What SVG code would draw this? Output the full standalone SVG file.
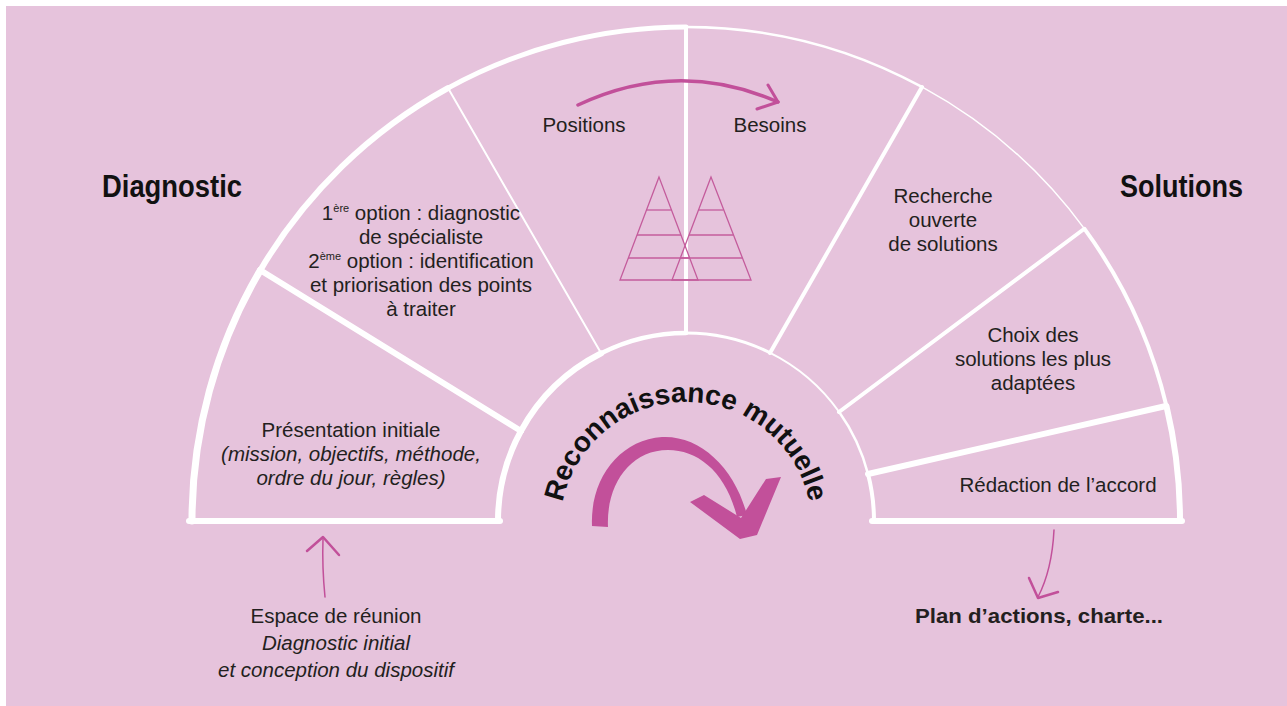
<svg xmlns="http://www.w3.org/2000/svg" width="1287" height="706" viewBox="0 0 1287 706">
<defs>
<style>
.bg{fill:#e6c3dc}
.w{fill:none;stroke:#ffffff;stroke-linecap:round}
.t{font-family:"Liberation Sans",Arial,sans-serif;font-size:20.5px;fill:#231f20;text-anchor:middle}
.it{font-style:italic}
.b{font-weight:bold}
.h{font-family:"Liberation Sans",Arial,sans-serif;font-weight:bold;font-size:31px;fill:#111111}
.sup{font-size:11px}
.pk{fill:none;stroke:#c2509a;stroke-linecap:round;stroke-linejoin:round}
.tri{fill:none;stroke:#c45c9c;stroke-width:1.3}
</style>
<path id="arcText" d="M 560 528 A 126 126 0 0 1 812 528"/>
</defs>
<rect class="bg" x="6" y="6" width="1281" height="700"/>

<g id="fan">
  <path class="w" stroke-width="7" d="M 192 521 A 494 494 0 0 1 260.2 270.4"/>
  <path class="w" stroke-width="6" d="M 260.2 270.4 A 494 494 0 0 1 447.9 88.1"/>
  <path class="w" stroke-width="5" d="M 447.9 88.1 A 494 494 0 0 1 686 27"/>
  <path class="w" stroke-width="2.5" d="M 686 27 A 494 494 0 0 1 922.4 87.2"/>
  <path class="w" stroke-width="1.5" d="M 922.4 87.2 A 494 494 0 0 1 1084.5 228.9"/>
  <path class="w" stroke-width="4" d="M 1084.5 228.9 A 494 494 0 0 1 1166.5 406.2"/>
  <path class="w" stroke-width="6" d="M 1166.5 406.2 A 494 494 0 0 1 1180 521"/>
  <path class="w" stroke-width="6" d="M 498 521 A 188 188 0 0 1 520.8 431.2"/>
  <path class="w" stroke-width="6" d="M 520.8 431.2 A 188 188 0 0 1 601.2 353.3"/>
  <path class="w" stroke-width="4.5" d="M 601.2 353.3 A 188 188 0 0 1 686 333"/>
  <path class="w" stroke-width="3" d="M 686 333 A 188 188 0 0 1 769.7 352.6"/>
  <path class="w" stroke-width="2" d="M 769.7 352.6 A 188 188 0 0 1 839.2 412"/>
  <path class="w" stroke-width="2.5" d="M 839.2 412 A 188 188 0 0 1 867.9 473.6"/>
  <path class="w" stroke-width="4" d="M 867.9 473.6 A 188 188 0 0 1 874 521"/>
  <line class="w" stroke-width="6" x1="189" y1="521" x2="500" y2="521"/>
  <line class="w" stroke-width="6" x1="872" y1="521" x2="1182" y2="521"/>
  <line class="w" stroke-width="6" x1="260" y1="270" x2="521" y2="431"/>
  <line class="w" stroke-width="2" x1="448" y1="88" x2="601" y2="353"/>
  <line class="w" stroke-width="4" x1="686" y1="27" x2="686" y2="333"/>
  <line class="w" stroke-width="4" x1="922" y1="87" x2="770" y2="353"/>
  <line class="w" stroke-width="4" x1="1084" y1="229" x2="839" y2="412"/>
  <line class="w" stroke-width="6" x1="1166" y1="406" x2="868" y2="474"/>
</g>

<g id="title-diagnostic">
  <text class="h" x="102" y="197" textLength="140" lengthAdjust="spacingAndGlyphs">Diagnostic</text>
</g>
<g id="title-solutions">
  <text class="h" x="1120" y="197" textLength="123" lengthAdjust="spacingAndGlyphs">Solutions</text>
</g>

<g id="node-presentation">
  <text class="t" x="351" y="437">Présentation initiale</text>
  <text class="t it" x="351" y="461">(mission, objectifs, méthode,</text>
  <text class="t it" x="351" y="485">ordre du jour, règles)</text>
</g>

<g id="node-options">
  <text class="t" x="421" y="220">1<tspan class="sup" dy="-8">ère</tspan><tspan dy="8"> option : diagnostic</tspan></text>
  <text class="t" x="421" y="244">de spécialiste</text>
  <text class="t" x="421" y="268">2<tspan class="sup" dy="-8">ème</tspan><tspan dy="8"> option : identification</tspan></text>
  <text class="t" x="421" y="292">et priorisation des points</text>
  <text class="t" x="421" y="316">à traiter</text>
</g>

<g id="node-positions-besoins">
  <text class="t" x="584" y="132">Positions</text>
  <text class="t" x="770" y="132">Besoins</text>
  <polygon class="tri" points="659,177 620,280 698,280"/>
  <polygon class="tri" points="711,177 672,280 751,280"/>
  <line class="tri" x1="646.5" y1="210" x2="671.5" y2="210"/>
  <line class="tri" x1="637" y1="235" x2="681" y2="235"/>
  <line class="tri" x1="628" y1="258" x2="690" y2="258"/>
  <line class="tri" x1="698.5" y1="210" x2="723.5" y2="210"/>
  <line class="tri" x1="689" y1="235" x2="733" y2="235"/>
  <line class="tri" x1="680" y1="258" x2="742" y2="258"/>
</g>

<g id="node-recherche">
  <text class="t" x="943" y="203">Recherche</text>
  <text class="t" x="943" y="227">ouverte</text>
  <text class="t" x="943" y="251">de solutions</text>
</g>

<g id="node-choix">
  <text class="t" x="1033" y="342">Choix des</text>
  <text class="t" x="1033" y="366">solutions les plus</text>
  <text class="t" x="1033" y="390">adaptées</text>
</g>

<g id="node-redaction">
  <text class="t" x="1058" y="492">Rédaction de l’accord</text>
</g>

<g id="node-reconnaissance">
  <text font-family="'Liberation Sans',Arial,sans-serif" font-weight="bold" font-size="28" fill="#111111" text-anchor="middle"><textPath href="#arcText" startOffset="50%">Reconnaissance mutuelle</textPath></text>
  <path fill="#c2509a" d="M 592 526 C 590 478, 620 440, 662 437 C 700 435, 735 468, 747 515 L 737 517 C 726 472, 698 450, 668 450 C 630 450, 606 485, 608 527 Z"/>
  <polygon fill="#c2509a" points="690,502 704,495 741,518 766,479 781,477 757,535 740,539"/>
</g>

<g id="node-espace">
  <text class="t" x="336" y="623">Espace de réunion</text>
  <text class="t it" x="336" y="650">Diagnostic initial</text>
  <text class="t it" x="336" y="677">et conception du dispositif</text>
</g>

<g id="node-plan">
  <text class="t b" x="1039" y="623" font-size="21" textLength="248" lengthAdjust="spacingAndGlyphs">Plan d’actions, charte...</text>
</g>

<g id="connectors">
  <path class="pk" stroke-width="3.5" d="M 578 105 Q 678 58 778 102"/>
  <path class="pk" stroke-width="3" d="M 768 85 L 778 102 L 757 109"/>
  <path class="pk" stroke-width="1.5" d="M 325 597 Q 322 567 323 539"/>
  <path class="pk" stroke-width="2.5" d="M 307 551 L 323 537 L 339 555"/>
  <path class="pk" stroke-width="1.5" d="M 1054 530 Q 1052 570 1038 597"/>
  <path class="pk" stroke-width="2.5" d="M 1029 578 L 1038 598 L 1058 592"/>
</g>
</svg>
